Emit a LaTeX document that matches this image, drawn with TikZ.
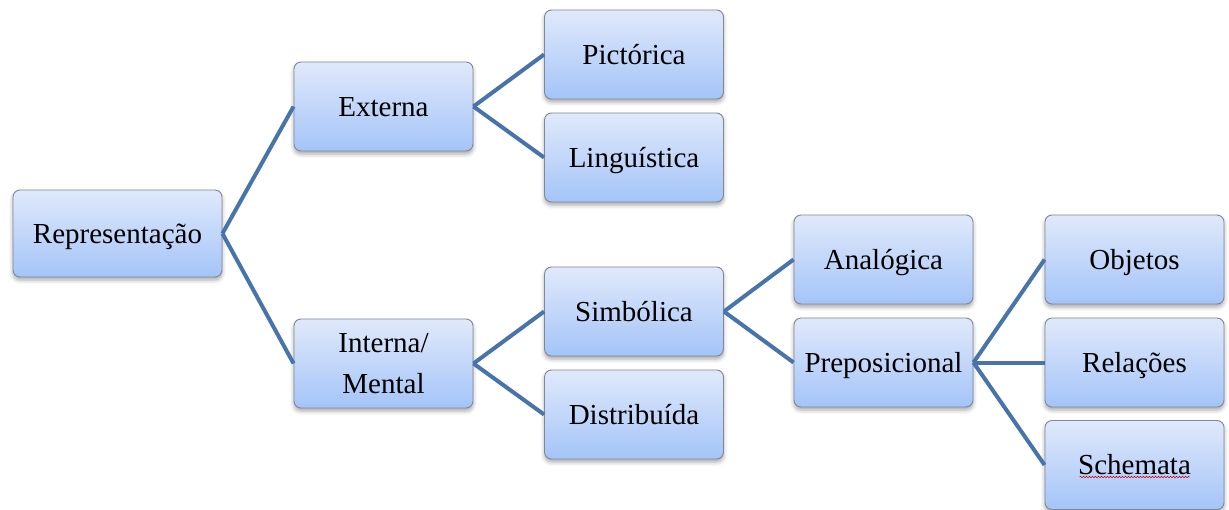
\documentclass[tikz,border=0pt]{standalone}
\usepackage{fontspec}
\setmainfont{Liberation Serif}
\usetikzlibrary{shadows.blur,decorations.pathmorphing}
\definecolor{boxtop}{RGB}{224,233,251}
\definecolor{boxbot}{RGB}{164,196,248}
\definecolor{boxline}{RGB}{128,136,150}
\definecolor{linkblue}{RGB}{72,116,172}
\tikzset{
  catbox/.style={rectangle, rounded corners=7pt, draw=boxline, line width=0.9pt,
    top color=boxtop, bottom color=boxbot,
    minimum width=179pt, minimum height=89pt, inner sep=2pt,
    align=center, font=\fontsize{29}{41}\selectfont,
    blur shadow={shadow xshift=0pt, shadow yshift=-3pt, shadow blur radius=4pt, shadow opacity=35}},
  oneline/.style={text height=19pt, text depth=0pt},
  link/.style={draw=linkblue, line width=4pt}
}
\begin{document}
\begin{tikzpicture}[x=1pt,y=-1pt]
\path[use as bounding box] (0,0) rectangle (1229,509);
% tree of nodes
\node[catbox, oneline, minimum width=209pt, minimum height=87pt] (rep) at (117.5,233.5) {Representação};
\node[catbox, oneline] (ext) at (383.5,106.5) {Externa};
\node[catbox] (int) at (383.5,363.5) {Interna/\\Mental};
\node[catbox, oneline] (pic) at (634,54.5) {Pictórica};
\node[catbox, oneline] (lin) at (634,157.5) {Linguística};
\node[catbox, oneline] (sim) at (634,311.5) {Simbólica};
\node[catbox, oneline] (dis) at (634,414.5) {Distribuída};
\node[catbox, oneline] (ana) at (883.5,259.5) {Analógica};
\node[catbox, oneline] (pre) at (883.5,362.5) {Preposicional};
\node[catbox, oneline] (obj) at (1134.5,259.5) {Objetos};
\node[catbox, oneline] (rel) at (1134.5,362.5) {Relações};
\node[catbox, oneline] (sch) at (1134.5,465) {Schemata};
% spell-check squiggle under the last label
\draw[red!80!black, line width=0.5pt, decorate,
  decoration={snake, amplitude=0.7pt, segment length=3pt}]
  ([xshift=-55pt,yshift=-12pt]sch.center) -- ([xshift=55pt,yshift=-12pt]sch.center);
% connectors
\draw[link] (rep.east) -- (ext.west);
\draw[link] (rep.east) -- (int.west);
\draw[link] (ext.east) -- (pic.west);
\draw[link] (ext.east) -- (lin.west);
\draw[link] (int.east) -- (sim.west);
\draw[link] (int.east) -- (dis.west);
\draw[link] (sim.east) -- (ana.west);
\draw[link] (sim.east) -- (pre.west);
\draw[link] (pre.east) -- (obj.west);
\draw[link] (pre.east) -- (rel.west);
\draw[link] (pre.east) -- (sch.west);
\end{tikzpicture}
\end{document}
